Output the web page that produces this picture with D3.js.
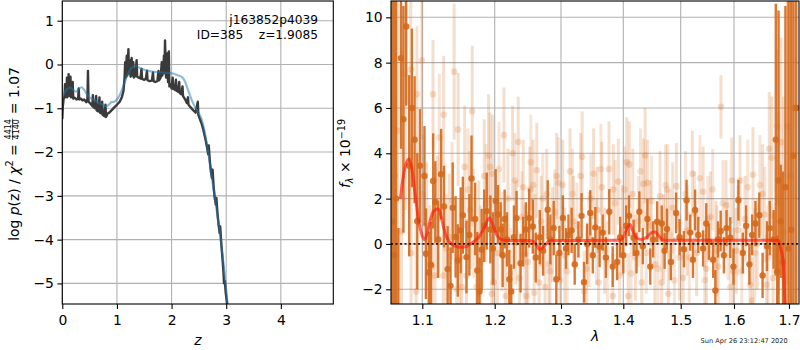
<!DOCTYPE html>
<html>
<head>
<meta charset="utf-8">
<script src="https://cdn.jsdelivr.net/npm/d3@7"></script>
<style>
body { margin: 0; background: #fff; }
svg { display: block; font-family: "DejaVu Sans", sans-serif; }
</style>
</head>
<body>
<svg id="fig" width="800" height="350"></svg>
<script>
// ---- left panel: log p(z) ----
var pzZ = [0.000,0.010,0.025,0.040,0.050,0.055,0.075,0.085,0.090,0.110,0.115,0.120,0.140,0.150,0.160,0.185,0.190,0.200,
  0.230,0.260,0.290,0.300,0.310,0.340,0.370,0.400,0.440,0.460,0.470,0.480,0.520,0.550,0.560,0.570,0.600,0.620,0.630,
  0.660,0.680,0.690,0.720,0.730,0.740,0.770,0.790,0.800,0.830,0.860,0.900,0.950,1.000,1.050,1.090,1.120,1.140,1.150,
  1.160,1.180,1.190,1.210,1.220,1.240,1.250,1.270,1.280,1.300,1.310,1.340,1.360,1.370,1.400,1.430,1.450,1.460,1.500,
  1.530,1.550,1.560,1.600,1.640,1.660,1.670,1.700,1.740,1.760,1.770,1.800,1.820,1.830,1.850,1.860,1.870,1.880,1.890,
  1.900,1.920,1.935,1.950,1.960,1.980,2.000,2.020,2.030,2.060,2.080,2.090,2.120,2.140,2.150,2.180,2.200,2.210,2.250,
  2.280,2.300,2.310,2.350,2.400,2.440,2.480,2.490,2.520,2.550,2.580,2.600,2.620,2.650,2.670,2.680,2.700,2.720,2.740,
  2.750,2.770,2.790,2.810,2.820,2.840,2.860,2.880,2.890,2.910,2.930,2.950,2.960,2.975,2.990,3.010,3.030];
var pzLog = [-1.25,-0.95,-0.78,-0.72,-0.45,-0.75,-0.70,-0.30,-0.75,-0.68,-0.22,-0.70,-0.72,-0.28,-0.75,-0.70,-0.40,-0.78,
  -0.76,-0.80,-0.78,-0.55,-0.80,-0.78,-0.82,-0.80,-0.86,-0.78,-0.15,-0.85,-0.90,-0.95,-0.70,-0.97,-1.00,-0.72,-1.05,
  -1.07,-0.75,-1.10,-1.12,-0.85,-1.15,-1.18,-0.92,-1.20,-1.12,-1.10,-1.05,-0.98,-0.92,-0.85,-0.75,-0.60,-0.30,0.05,
  -0.30,0.20,-0.25,0.35,-0.20,0.10,-0.28,0.15,-0.25,0.05,-0.30,-0.25,0.10,-0.28,-0.30,-0.32,-0.10,-0.33,-0.35,
  -0.32,-0.15,-0.36,-0.38,-0.37,-0.18,-0.38,-0.40,-0.38,-0.15,-0.36,-0.30,0.05,-0.25,-0.10,0.20,-0.20,0.55,0.10,
  -0.30,0.25,-0.40,0.30,-0.50,-0.45,-0.55,-0.30,-0.55,-0.58,-0.35,-0.60,-0.62,-0.40,-0.65,-0.68,-0.50,-0.72,-0.80,
  -0.88,-0.75,-0.92,-0.98,-1.05,-1.10,-0.85,-1.15,-1.25,-1.35,-1.48,-1.60,-1.70,-1.90,-2.05,-1.85,-2.20,-2.45,-2.60,
  -2.40,-2.80,-3.05,-3.20,-3.05,-3.40,-3.65,-3.85,-3.70,-4.10,-4.40,-4.75,-5.00,-4.95,-5.20,-5.40,-5.60];
var smZ = [0.00,0.05,0.10,0.15,0.20,0.25,0.30,0.35,0.40,0.45,0.50,0.55,0.60,0.65,0.70,0.75,0.80,0.85,0.90,0.95,
  1.00,1.05,1.10,1.15,1.20,1.25,1.30,1.35,1.40,1.50,1.60,1.70,1.80,1.90,2.00,2.10,2.20,2.25,2.30,2.35,2.40,2.45,
  2.50,2.55,2.60,2.65,2.70,2.75,2.80,2.85,2.90,2.95,3.00,3.05];
var smLog = [-0.75,-0.62,-0.55,-0.53,-0.58,-0.62,-0.56,-0.52,-0.58,-0.68,-0.75,-0.79,-0.82,-0.86,-0.90,-0.93,-0.95,-0.92,-0.86,-0.85,
  -0.80,-0.70,-0.55,-0.38,-0.22,-0.10,-0.05,-0.04,-0.07,-0.12,-0.15,-0.17,-0.18,-0.19,-0.20,-0.24,-0.30,-0.40,-0.58,-0.75,-0.90,-1.02,
  -1.12,-1.25,-1.50,-1.85,-2.25,-2.70,-3.10,-3.55,-4.00,-4.55,-5.15,-5.80];
var zTicks = [0, 1, 2, 3, 4];
var logTicks = [-5, -4, -3, -2, -1, 0, 1];

// ---- right panel: spectrum ----
var darkLam = [1.0605,1.0635,1.0660,1.0690,1.0724,1.0755,1.0791,1.0830,1.0865,1.0900,1.0935,1.0970,
  1.1030,1.1050,1.1090,1.1120,1.1150,1.1180,1.1220,1.1260,1.1300,1.1350,1.1390,1.1420,1.1460,1.1490,1.1530,1.1560,1.1610,1.1650,1.1680,1.1730,1.1760,1.1790,1.1820,1.1855,1.1890,1.1940,1.1975,
  1.2015,1.2050,1.2090,1.2120,1.2150,1.2185,1.2220,1.2250,1.2290,1.2330,1.2390,1.2430,1.2470,1.2520,1.2575,1.2620,1.2680,1.2730,1.2800,1.2840,1.2890,1.2930,1.2975,
  1.3030,1.3080,1.3120,1.3170,1.3220,1.3280,1.3330,1.3370,1.3420,1.3470,1.3510,1.3550,1.3620,1.3670,1.3720,1.3775,1.3830,1.3900,1.3950,
  1.4000,1.4050,1.4100,1.4180,1.4230,1.4280,1.4340,1.4420,1.4470,1.4520,1.4590,1.4670,1.4720,1.4760,1.4830,1.4920,1.4980,
  1.5060,1.5110,1.5180,1.5230,1.5270,1.5330,1.5420,1.5480,1.5530,1.5610,1.5650,1.5700,1.5750,1.5810,1.5860,1.5930,1.5990,
  1.6080,1.6160,1.6220,1.6280,1.6330,1.6390,1.6460,1.6520,1.6600,1.6650,1.6720,1.6760,1.6785,1.6810,1.6850,1.6890,1.6935,1.6990,1.7040,1.7080,1.7130];
var darkFlux = [1.0,-0.5,2.0,-6.0,8.2,5.5,9.6,3.45,6.0,4.6,1.0,3.45,
  3.0,-0.43,-1.26,-0.93,2.78,1.85,0.2,3.08,1.65,-1.11,-1.85,1.6,0.31,-0.73,0.6,1.27,-0.58,0.4,2.89,1.1,-1.17,-2.1,-0.25,0.8,1.45,0.64,-0.2,
  1.9,1.3,0.64,-0.5,1.1,0.2,-1.56,-2.1,0.3,1.14,-0.85,0.1,0.64,1.14,0.77,-0.6,0.3,-0.3,1.51,0.2,0.7,-1.56,-0.4,
  1.15,-0.2,0.4,0.6,-0.9,0.2,1.24,-1.69,0.0,1.37,-0.5,0.73,-0.12,0.5,-0.6,1.42,-1.0,-0.8,0.3,
  -0.5,0.8,1.24,0.27,-0.4,1.42,-0.1,1.1,-1.0,0.2,0.98,0.9,-0.3,0.66,-0.8,1.37,0.3,
  -0.23,1.93,0.5,-0.7,1.5,0.4,-0.2,0.9,0.1,-0.7,-2.05,0.2,0.57,-0.5,0.7,0.28,-1.0,
  1.93,-0.4,0.8,-0.9,0.4,0.9,1.27,-1.39,-0.1,0.7,0.2,4.6,-1.23,2.8,1.0,-0.8,2.5,-0.2,0.63,3.9,6.0];
var darkErr = [15,14,13,6.7,4.0,5.0,3.5,4.0,3.5,2.8,3.0,2.5,
  2.2,2.0,1.8,1.9,2.1,1.8,1.7,2.0,1.8,1.9,1.7,2.0,1.8,1.6,1.9,1.7,1.6,1.8,1.9,1.6,1.7,1.5,1.8,1.6,1.7,1.5,1.6,
  1.4,1.3,1.2,1.4,1.3,1.2,1.3,1.2,1.4,1.2,1.3,1.1,1.2,1.3,1.2,1.1,1.2,1.1,1.3,1.1,1.2,1.1,1.2,
  1.0,0.9,0.9,1.0,0.9,0.8,1.0,0.9,0.9,1.0,0.8,0.9,0.9,0.8,0.9,1.0,0.9,0.8,0.9,
  0.8,0.9,0.9,0.8,0.9,0.9,0.8,0.9,0.8,0.8,0.9,0.8,0.8,0.9,0.8,0.9,0.8,
  0.8,0.9,0.8,0.8,0.9,0.8,0.8,0.9,0.8,0.8,0.9,0.8,0.9,0.8,0.8,0.9,0.8,
  0.9,0.9,0.9,0.9,0.9,1.0,1.0,1.0,1.1,1.2,1.3,6.0,1.6,7.5,2.5,4.0,8.0,12,14,14,15];

// faint points, first exposure
var lightLam = [1.0620,1.0645,1.0680,1.0730,1.0780,1.0850,1.0855,1.0920,1.0930,1.0995,
  1.1060,1.1105,1.1148,1.1175,1.1210,1.1290,1.1295,1.1370,1.1440,1.1495,1.1520,1.1545,1.1585,1.1610,1.1660,1.1690,1.1750,1.1780,1.1855,1.1915,1.1935,1.1960,1.1970,1.1985,
  1.2040,1.2140,1.2165,1.2200,1.2270,1.2320,1.2355,1.2375,1.2430,1.2480,1.2500,1.2530,1.2580,1.2595,1.2635,1.2670,1.2700,1.2760,1.2785,1.2835,1.2870,1.2935,1.2985,
  1.3027,1.3060,1.3145,1.3200,1.3316,1.3340,1.3412,1.3450,1.3523,1.3580,1.3603,1.3655,1.3700,1.3770,1.3830,1.3840,1.3920,1.3980,
  1.4060,1.4085,1.4105,1.4165,1.4210,1.4320,1.4350,1.4380,1.4420,1.4470,1.4550,1.4640,1.4670,1.4700,1.4767,1.4785,1.4860,1.4925,1.4980,
  1.5045,1.5120,1.5220,1.5300,1.5420,1.5480,1.5560,1.5660,1.5705,1.5756,1.5850,1.5957,1.5985,
  1.6040,1.6110,1.6200,1.6290,1.6335,1.6345,1.6420,1.6520,1.6595,1.6640,1.6685,1.6710,1.6785,1.6810,1.6855,1.6900,1.6965,1.7020,1.7100];
var lightFlux = [4.0,3.0,5.0,0.55,7.5,7.7,-0.4,-2.1,6.6,8.1,
  0.8,-0.9,6.6,-1.4,1.2,-1.4,5.7,0.3,7.6,5.05,-0.6,-1.9,3.4,-1.4,1.5,5.85,-1.9,0.2,3.0,3.9,3.4,-2.2,3.1,-1.7,
  -0.4,4.8,-2.3,2.0,4.0,0.5,4.5,-1.5,2.5,-2.3,-0.8,2.4,2.6,-2.15,3.25,-1.7,1.0,-1.9,2.2,-1.2,0.4,3.0,-1.6,
  2.6,-0.5,3.2,1.0,3.0,3.85,-1.1,0.2,3.1,1.5,-1.7,2.5,-0.3,3.3,-2.3,2.4,2.75,0.6,
  3.6,-2.3,3.5,2.2,-0.6,-1.7,2.65,3.9,2.7,0.8,-0.9,2.1,-1.7,0.3,2.4,-2.2,1.6,2.55,-0.6,
  -1.5,0.6,3.1,-0.4,2.3,-1.1,1.2,0.0,-1.0,6.05,1.7,2.8,-1.2,
  -0.3,2.8,1.1,-1.8,-2.5,3.05,0.0,2.2,-1.8,4.2,3.8,-1.5,5.2,1.8,4.5,0.5,5.2,3.0,6.0];
var lightErr = [12,12,10,8.0,6.0,4.0,5.0,4.0,3.0,3.5,
  2.8,2.6,2.4,2.5,2.7,2.4,2.6,2.8,3.0,2.5,2.6,2.4,2.7,2.5,2.6,2.9,2.4,2.6,2.5,2.7,2.4,2.5,2.6,2.4,
  2.3,2.1,2.0,2.2,2.1,2.3,2.0,1.9,2.1,2.0,2.2,1.9,2.0,1.9,2.1,1.9,2.0,1.8,2.0,1.9,2.1,1.9,1.8,
  2.0,2.1,1.9,2.0,1.9,2.0,1.9,2.1,2.0,1.9,1.9,2.0,1.9,2.1,1.9,2.0,1.9,2.0,
  2.0,1.9,1.9,2.0,1.9,1.9,2.0,2.1,1.9,2.0,1.9,2.0,1.9,1.9,2.0,1.9,2.0,1.9,1.9,
  1.9,2.0,1.9,1.9,2.0,1.9,2.0,1.9,1.9,1.4,2.0,1.9,1.9,
  1.9,2.0,1.9,2.0,1.9,2.1,2.0,2.2,2.2,2.5,2.7,2.9,3.4,4.0,4.6,6.0,7.0,10,12];

// faint points, second exposure
var light2Lam = [1.1010,1.1135,1.1235,1.1330,1.1410,1.1475,1.1630,1.1710,1.1805,1.1880,
  1.2065,1.2110,1.2235,1.2305,1.2410,1.2455,1.2545,1.2610,1.2725,1.2815,1.2905,1.2960,
  1.3100,1.3185,1.3255,1.3370,1.3480,1.3570,1.3640,1.3745,1.3870,1.3940,
  1.4025,1.4135,1.4260,1.4300,1.4400,1.4495,1.4605,1.4735,1.4810,1.4890,
  1.5090,1.5160,1.5260,1.5360,1.5450,1.5510,1.5600,1.5680,1.5790,1.5890,1.5930,
  1.6070,1.6140,1.6250,1.6380,1.6470,1.6560,1.6620];
var light2Flux = [2.2,-1.0,4.7,-0.2,1.9,-2.0,2.4,0.9,-0.8,1.8,
  3.3,0.1,-1.3,2.8,1.2,-0.5,3.6,0.3,2.0,-0.9,1.4,2.7,
  -1.2,2.2,0.8,-2.1,2.0,0.1,3.3,-0.8,1.8,-1.4,
  2.4,-1.3,1.0,3.2,-0.4,1.9,-1.1,2.6,0.4,-1.6,
  2.2,-0.6,1.4,2.9,-1.6,1.1,2.4,-0.3,1.8,0.2,-1.9,
  0.6,-1.2,2.5,-0.4,2.6,1.3,-0.6];
var light2Err = [2.6,2.5,2.8,2.4,2.6,2.5,2.7,2.4,2.5,2.6,
  2.1,2.2,2.0,2.1,2.0,2.2,2.1,1.9,2.0,2.1,1.9,2.0,
  1.9,2.0,1.9,1.8,2.0,1.9,2.0,1.8,1.9,2.0,
  1.9,1.8,2.0,1.9,1.8,2.0,1.9,1.8,2.0,1.9,
  1.9,2.0,1.8,1.9,2.0,1.9,1.8,2.0,1.9,1.8,1.9,
  2.0,1.9,2.1,2.0,2.2,2.1,2.3];

var modelLam = [1.0715,1.0750,1.0790,1.0827,1.0870,1.0910,1.0950,1.0990,1.1028,1.1070,1.1110,1.1160,1.1221,1.1260,1.1300,1.1337,
  1.1400,1.1480,1.1567,1.1640,1.1720,1.1790,1.1860,1.1925,1.1980,1.2040,1.2100,1.2200,1.2500,1.2580,1.2630,1.2676,1.2730,1.2790,1.2830,
  1.3950,1.4010,1.4070,1.4117,1.4170,1.4240,1.4320,1.4400,1.4480,1.4552,1.4620,1.4690,1.4756,1.6805,1.6850,1.6896,1.6927,1.6950];
var modelFlux = [2.0,2.9,3.55,3.75,3.2,2.1,1.1,0.45,0.19,0.5,1.05,1.45,1.55,1.2,0.65,0.3,
  0.0,-0.12,-0.15,-0.05,0.12,0.35,0.75,1.15,0.8,0.35,0.2,0.15,0.15,0.12,-0.05,-0.25,-0.15,0.05,0.15,
  0.16,0.35,0.72,0.86,0.55,0.25,0.2,0.28,0.48,0.53,0.35,0.18,0.16,0.16,-0.2,-0.84,-2.6,-3.5];
var lamTicks = [1.1, 1.2, 1.3, 1.4, 1.5, 1.6, 1.7];
var fTicks = [-2, 0, 2, 4, 6, 8, 10];

var svg = d3.select("#fig");
svg.append("rect").attr("width", 800).attr("height", 350).attr("fill", "#fff");

var fs = 13.9;
var gridColor = "#b0b0b0";
var orange = "#d4691c";

// scales
var xZ = d3.scaleLinear().domain([0, 4.96]).range([62.3, 333.3]);
var yP = d3.scaleLinear().domain([-5.47, 1.45]).range([304, 1]);
// wavelength axis is not linear: calibrated on its tick marks
var xLam = d3.scaleLinear()
  .domain([1.0594, 1.1, 1.2, 1.3, 1.4, 1.5, 1.6, 1.7, 1.718])
  .range([391, 422.3, 494.7, 561, 623.3, 680.7, 734, 789, 799]);
var yF = d3.scaleLinear().domain([-2.65, 10.72]).range([304, 1]);

var defs = svg.append("defs");
defs.append("clipPath").attr("id", "clipL").append("rect")
  .attr("x", 62.3).attr("y", 1).attr("width", 271).attr("height", 303);
defs.append("clipPath").attr("id", "clipR").append("rect")
  .attr("x", 391).attr("y", 1).attr("width", 408).attr("height", 303);

function grid(g, xs, ys, xScale, yScale) {
  var x0 = xScale.range()[0], x1 = xScale.range()[xScale.range().length - 1];
  var y0 = yScale.range()[1], y1 = yScale.range()[0];
  g.selectAll(".gx").data(xs).enter().append("line")
    .attr("x1", function(d) { return xScale(d); }).attr("x2", function(d) { return xScale(d); })
    .attr("y1", y0).attr("y2", y1).attr("stroke", gridColor).attr("stroke-width", 1.1);
  g.selectAll(".gy").data(ys).enter().append("line")
    .attr("x1", x0).attr("x2", x1)
    .attr("y1", function(d) { return yScale(d); }).attr("y2", function(d) { return yScale(d); })
    .attr("stroke", gridColor).attr("stroke-width", 1.1);
}

function styleAxis(g) {
  g.select(".domain").remove();
  g.selectAll(".tick line").attr("stroke", "#000").attr("stroke-width", 1.1);
  g.selectAll(".tick text").attr("font-size", fs).attr("fill", "#000")
    .attr("font-family", "DejaVu Sans, sans-serif");
}

// draws one set of error bars with round markers
function errorbars(g, pts, opacity, width, r) {
  var s = g.append("g");
  s.selectAll("line").data(pts).enter().append("line")
    .attr("x1", function(d) { return xLam(d[0]); }).attr("x2", function(d) { return xLam(d[0]); })
    .attr("y1", function(d) { return yF(d[1] - d[2]); }).attr("y2", function(d) { return yF(d[1] + d[2]); })
    .attr("stroke", orange).attr("stroke-opacity", opacity).attr("stroke-width", width);
  s.selectAll("circle").data(pts).enter().append("circle")
    .attr("cx", function(d) { return xLam(d[0]); }).attr("cy", function(d) { return yF(d[1]); })
    .attr("r", r).attr("fill", orange).attr("fill-opacity", opacity);
}

// ================= left panel =================
var gl = svg.append("g");
grid(gl, zTicks, logTicks, xZ, yP);

var lineP = d3.line().x(function(d) { return xZ(d[0]); }).y(function(d) { return yP(d[1]); });
var gLines = gl.append("g").attr("clip-path", "url(#clipL)");
gLines.append("path").datum(d3.zip(pzZ, pzLog)).attr("d", lineP)
  .attr("fill", "none").attr("stroke", "#3a3a3a").attr("stroke-width", 2.4)
  .attr("stroke-linejoin", "round");
gLines.append("path").datum(d3.zip(smZ, smLog)).attr("d", d3.line().curve(d3.curveMonotoneX)
    .x(function(d) { return xZ(d[0]); }).y(function(d) { return yP(d[1]); }))
  .attr("fill", "none").attr("stroke", "#1f77b4").attr("stroke-opacity", 0.5).attr("stroke-width", 2.2);

gl.append("rect").attr("x", 62.3).attr("y", 1).attr("width", 271).attr("height", 303)
  .attr("fill", "none").attr("stroke", "#000").attr("stroke-width", 1.1);

gl.append("g").attr("transform", "translate(0,304)")
  .call(d3.axisBottom(xZ).tickValues(zTicks).tickSize(4.9).tickPadding(6).tickFormat(d3.format("d")))
  .call(styleAxis);
gl.append("g").attr("transform", "translate(62.3,0)")
  .call(d3.axisLeft(yP).tickValues(logTicks).tickSize(4.9).tickPadding(3.5).tickFormat(d3.format("d")))
  .call(styleAxis);

gl.append("text").attr("x", 318).attr("y", 24).attr("text-anchor", "end")
  .attr("font-size", 12.2).text("j163852p4039");
gl.append("text").attr("x", 318).attr("y", 38.5).attr("text-anchor", "end")
  .attr("font-size", 12.2).text("ID=385\u00a0\u00a0\u00a0\u00a0z=1.9085");

gl.append("text").attr("x", 197.8).attr("y", 345).attr("text-anchor", "middle")
  .attr("font-size", fs).attr("font-style", "italic").text("z");

// y label: log p(z) / chi^2 = 4414/4140 = 1.07
var yl = gl.append("g");
var t1 = yl.append("text").attr("font-size", fs);
t1.append("tspan").text("log\u00a0");
t1.append("tspan").attr("font-style", "italic").text("p");
t1.append("tspan").text("(z)\u00a0/\u00a0");
t1.append("tspan").attr("font-style", "italic").text("χ");
t1.append("tspan").attr("font-size", 9.7).attr("dy", -5.5).text("2");
t1.append("tspan").attr("dy", 5.5).text("\u00a0=\u00a0");
var w1 = t1.node().getComputedTextLength();
var num = yl.append("text").attr("font-size", 8).attr("text-anchor", "middle").attr("y", -7.8).text("4414");
var den = yl.append("text").attr("font-size", 8).attr("text-anchor", "middle").attr("y", 0.8).text("4140");
var fw = Math.max(num.node().getComputedTextLength(), den.node().getComputedTextLength()) + 1;
num.attr("x", w1 + fw / 2);
den.attr("x", w1 + fw / 2);
yl.append("line").attr("x1", w1).attr("x2", w1 + fw).attr("y1", -5.9).attr("y2", -5.9)
  .attr("stroke", "#000").attr("stroke-width", 0.7);
var t3 = yl.append("text").attr("font-size", fs).attr("x", w1 + fw).text("\u00a0=\u00a01.07");
var total = w1 + fw + t3.node().getComputedTextLength();
yl.attr("transform", "translate(18.5," + (154 + total / 2) + ") rotate(-90)");

// ================= right panel =================
var gr = svg.append("g");
grid(gr, lamTicks, fTicks, xLam, yF);

var gData = gr.append("g").attr("clip-path", "url(#clipR)");
errorbars(gData, d3.zip(lightLam, lightFlux, lightErr), 0.22, 3, 3.3);
errorbars(gData, d3.zip(light2Lam, light2Flux, light2Err), 0.18, 3, 3.3);
errorbars(gData, d3.zip(darkLam, darkFlux, darkErr), 0.9, 2.4, 3.2);

gData.append("path").datum(d3.zip(modelLam, modelFlux))
  .attr("d", d3.line().curve(d3.curveMonotoneX)
    .x(function(d) { return xLam(d[0]); }).y(function(d) { return yF(d[1]); }))
  .attr("fill", "none").attr("stroke", "#ff1a0a").attr("stroke-opacity", 0.65).attr("stroke-width", 3);

gData.append("line").attr("x1", 391).attr("x2", 799).attr("y1", yF(0)).attr("y2", yF(0))
  .attr("stroke", "#000").attr("stroke-opacity", 0.85).attr("stroke-width", 1.8)
  .attr("stroke-dasharray", "2,2.5");

gr.append("rect").attr("x", 391).attr("y", 1).attr("width", 408).attr("height", 303)
  .attr("fill", "none").attr("stroke", "#000").attr("stroke-width", 1.1);

gr.append("g").attr("transform", "translate(0,304)")
  .call(d3.axisBottom(xLam).tickValues(lamTicks).tickSize(4.9).tickPadding(6).tickFormat(d3.format(".1f")))
  .call(styleAxis);
gr.append("g").attr("transform", "translate(391,0)")
  .call(d3.axisLeft(yF).tickValues(fTicks).tickSize(4.9).tickPadding(3.5).tickFormat(d3.format("d")))
  .call(styleAxis);

gr.append("text").attr("x", 595).attr("y", 341).attr("text-anchor", "middle")
  .attr("font-size", fs).attr("font-style", "italic").text("λ");

var yr = gr.append("text").attr("font-size", fs).attr("text-anchor", "middle")
  .attr("transform", "translate(350,153.5) rotate(-90)");
yr.append("tspan").attr("font-style", "italic").text("f");
yr.append("tspan").attr("font-style", "italic").attr("font-size", 9.7).attr("dy", 2.5).text("λ");
yr.append("tspan").attr("dy", -2.5).text("\u00a0×\u00a010");
yr.append("tspan").attr("font-size", 9.7).attr("dy", -5.5).text("−19");

svg.append("text").attr("x", 787.7).attr("y", 343).attr("text-anchor", "end")
  .attr("font-size", 6.6).attr("fill", "#222").text("Sun Apr 26 23:12:47 2020");
</script>
</body>
</html>
